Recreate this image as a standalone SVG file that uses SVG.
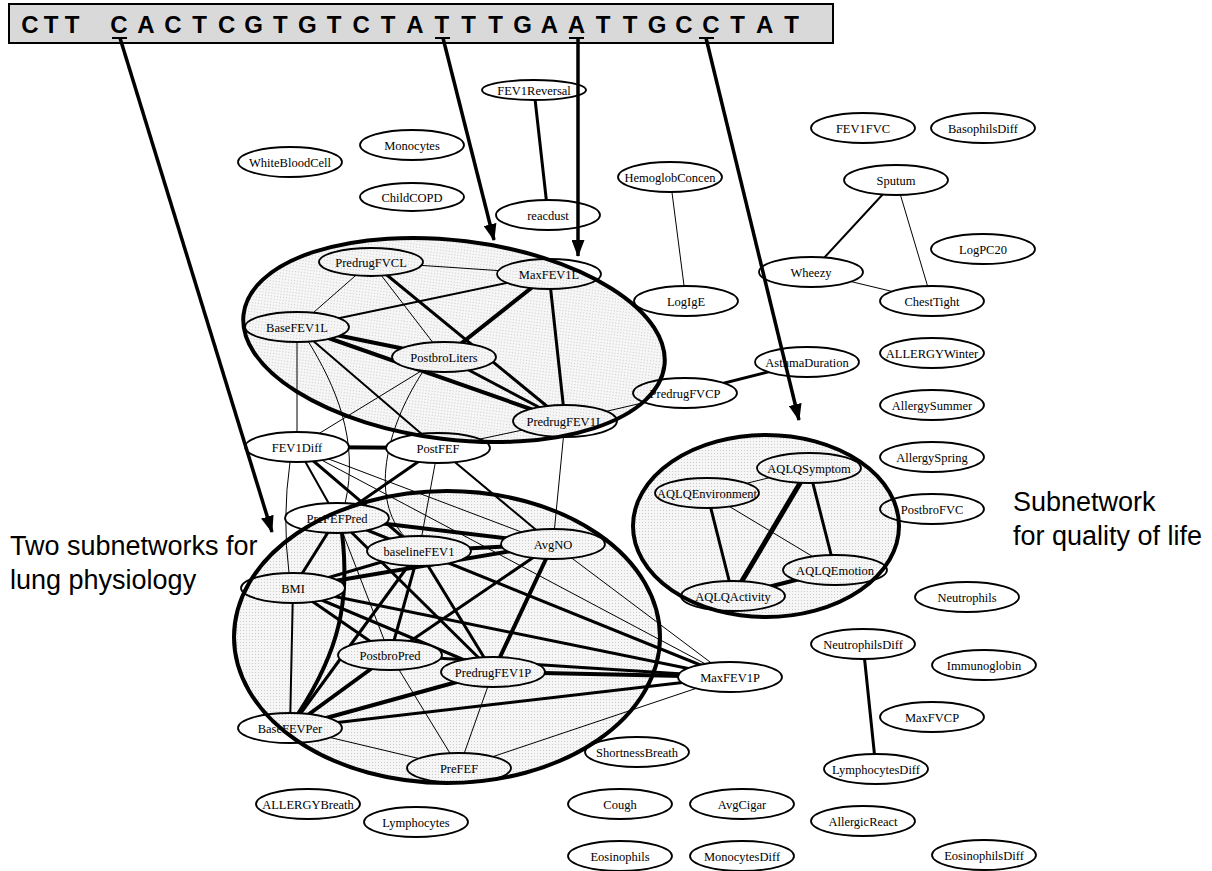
<svg xmlns="http://www.w3.org/2000/svg" width="1212" height="871" viewBox="0 0 1212 871">
<defs>
<style>
.nd ellipse{fill:none;stroke:#000;stroke-width:1.8}
.nd text{font-family:"Liberation Serif","Times New Roman",serif;font-size:12.5px;text-anchor:middle;fill:#000}
.cn line,.cn path{stroke:#000;fill:none;stroke-linecap:round}
.e1{stroke-width:1}.e2{stroke-width:2}.e3{stroke-width:3}.e4{stroke-width:4}.e5{stroke-width:5}
.sub{fill:none;stroke:#000;stroke-width:4}
.subf{fill:url(#dots);stroke:none}
.arr{stroke:#000;stroke-width:3.5;fill:none;marker-end:url(#ah)}
.lbl{font-family:"Liberation Sans",Arial,sans-serif;font-size:27px;fill:#000}
.seq{font-family:"Liberation Sans",Arial,sans-serif;font-size:24px;font-weight:bold;text-anchor:middle;fill:#000}
</style>
<pattern id="dots" width="3" height="3" patternUnits="userSpaceOnUse"><rect width="3" height="3" fill="#f6f6f6"/><rect width="1" height="1" fill="#cccccc"/></pattern>
<marker id="ah" markerUnits="userSpaceOnUse" markerWidth="17" markerHeight="13" refX="16" refY="6.5" orient="auto" viewBox="0 0 17 13"><path d="M0,0 L17,6.5 L0,13 z" fill="#000"/></marker>
<mask id="nm" maskUnits="userSpaceOnUse" x="0" y="0" width="1212" height="871">
<rect width="1212" height="871" fill="#fff"/>
<g fill="#000">
<ellipse cx="534" cy="90" rx="52" ry="10"/><ellipse cx="548" cy="215" rx="52" ry="15"/>
<ellipse cx="670" cy="177" rx="52" ry="15"/><ellipse cx="686" cy="301" rx="52" ry="15"/>
<ellipse cx="896" cy="180" rx="52" ry="15"/><ellipse cx="811" cy="272" rx="52" ry="15"/><ellipse cx="932" cy="301" rx="52" ry="15"/>
<ellipse cx="807" cy="362" rx="52" ry="15"/><ellipse cx="685" cy="393" rx="52" ry="15"/>
<ellipse cx="809" cy="468" rx="52" ry="15"/><ellipse cx="707" cy="493" rx="52" ry="15"/><ellipse cx="835" cy="570" rx="52" ry="15"/><ellipse cx="733" cy="596" rx="52" ry="15"/>
<ellipse cx="863" cy="644" rx="52" ry="15"/><ellipse cx="876" cy="769" rx="52" ry="15"/>
<ellipse cx="371" cy="262" rx="52" ry="14"/><ellipse cx="549" cy="274" rx="52" ry="15"/><ellipse cx="297" cy="327" rx="52" ry="15"/><ellipse cx="444" cy="357" rx="52" ry="15"/><ellipse cx="565" cy="421" rx="52" ry="16"/><ellipse cx="297" cy="447" rx="52" ry="15"/><ellipse cx="438" cy="448" rx="52" ry="15"/>
<ellipse cx="337" cy="518" rx="52" ry="15"/><ellipse cx="419" cy="551" rx="52" ry="15"/><ellipse cx="553" cy="544" rx="52" ry="15"/><ellipse cx="293" cy="588" rx="52" ry="15"/><ellipse cx="390" cy="655" rx="52" ry="15"/><ellipse cx="493" cy="672" rx="52" ry="15"/><ellipse cx="730" cy="677" rx="52" ry="15"/><ellipse cx="290" cy="728" rx="52" ry="15"/><ellipse cx="459" cy="768" rx="52" ry="15"/>
</g>
</mask>
</defs>

<rect width="1212" height="871" fill="#fff"/>

<g id="subnet-fills">
<ellipse class="subf" cx="454" cy="340" rx="212" ry="99.5" transform="rotate(7 454 340)"/>
<ellipse class="subf" cx="447" cy="637" rx="213" ry="146"/>
<ellipse class="subf" cx="766" cy="526" rx="133" ry="91"/>
</g>

<g id="connectors" class="cn" mask="url(#nm)">
<line class="e3" x1="534" y1="90" x2="548" y2="215"/>
<line class="e1" x1="670" y1="177" x2="686" y2="301"/>
<line class="e2" x1="896" y1="180" x2="811" y2="272"/>
<line class="e1" x1="896" y1="180" x2="932" y2="301"/>
<line class="e1" x1="811" y1="272" x2="932" y2="301"/>
<line class="e3" x1="685" y1="393" x2="807" y2="362"/>
<line class="e1" x1="565" y1="421" x2="685" y2="393"/>
<line class="e1" x1="809" y1="468" x2="707" y2="493"/>
<line class="e5" x1="809" y1="468" x2="733" y2="596"/>
<line class="e3" x1="809" y1="468" x2="835" y2="570"/>
<line class="e3" x1="707" y1="493" x2="733" y2="596"/>
<line class="e1" x1="707" y1="493" x2="835" y2="570"/>
<line class="e4" x1="835" y1="570" x2="733" y2="596"/>
<line class="e3" x1="863" y1="644" x2="876" y2="769"/>
<!-- upper group -->
<line class="e1" x1="371" y1="262" x2="549" y2="274"/>
<line class="e1" x1="371" y1="262" x2="297" y2="327"/>
<line class="e1" x1="371" y1="262" x2="444" y2="357"/>
<line class="e3" x1="371" y1="262" x2="565" y2="421"/>
<line class="e2" x1="549" y1="274" x2="297" y2="327"/>
<line class="e4" x1="549" y1="274" x2="444" y2="357"/>
<line class="e3" x1="549" y1="274" x2="565" y2="421"/>
<line class="e4" x1="297" y1="327" x2="444" y2="357"/>
<line class="e4" x1="297" y1="327" x2="565" y2="421"/>
<line class="e3" x1="444" y1="357" x2="565" y2="421"/>
<line class="e1" x1="297" y1="327" x2="297" y2="447"/>
<path class="e1" d="M308,341 C335,385 360,440 345,504"/>
<line class="e2" x1="297" y1="327" x2="438" y2="448"/>
<line class="e1" x1="444" y1="357" x2="297" y2="447"/>
<path class="e1" d="M422,373 C385,430 370,500 405,537"/>
<line class="e1" x1="565" y1="421" x2="438" y2="448"/>
<line class="e1" x1="565" y1="421" x2="553" y2="544"/>
<line class="e4" x1="297" y1="447" x2="438" y2="448"/>
<!-- lower group -->
<path class="e1" d="M290,462 Q282,518 289,573"/>
<line class="e2" x1="297" y1="447" x2="337" y2="518"/>
<line class="e3" x1="297" y1="447" x2="419" y2="551"/>
<line class="e1" x1="297" y1="447" x2="553" y2="544"/>
<line class="e1" x1="297" y1="447" x2="730" y2="677"/>
<line class="e3" x1="438" y1="448" x2="337" y2="518"/>
<line class="e1" x1="438" y1="448" x2="419" y2="551"/>
<line class="e2" x1="438" y1="448" x2="553" y2="544"/>
<line class="e3" x1="337" y1="518" x2="419" y2="551"/>
<line class="e4" x1="337" y1="518" x2="553" y2="544"/>
<line class="e3" x1="337" y1="518" x2="293" y2="588"/>
<path class="e4" d="M342,533 C350,600 340,650 298,714"/>
<line class="e1" x1="337" y1="518" x2="390" y2="655"/>
<line class="e3" x1="337" y1="518" x2="493" y2="672"/>
<line class="e1" x1="337" y1="518" x2="730" y2="677"/>
<line class="e4" x1="419" y1="551" x2="553" y2="544"/>
<line class="e3" x1="419" y1="551" x2="293" y2="588"/>
<line class="e3" x1="419" y1="551" x2="290" y2="728"/>
<line class="e3" x1="419" y1="551" x2="390" y2="655"/>
<line class="e3" x1="419" y1="551" x2="493" y2="672"/>
<line class="e3" x1="419" y1="551" x2="730" y2="677"/>
<line class="e4" x1="553" y1="544" x2="293" y2="588"/>
<line class="e3" x1="553" y1="544" x2="390" y2="655"/>
<line class="e4" x1="553" y1="544" x2="493" y2="672"/>
<line class="e1" x1="553" y1="544" x2="730" y2="677"/>
<line class="e2" x1="293" y1="588" x2="290" y2="728"/>
<line class="e3" x1="293" y1="588" x2="390" y2="655"/>
<line class="e3" x1="293" y1="588" x2="493" y2="672"/>
<line class="e3" x1="293" y1="588" x2="730" y2="677"/>
<line class="e4" x1="390" y1="655" x2="290" y2="728"/>
<line class="e1" x1="390" y1="655" x2="459" y2="768"/>
<line class="e3" x1="390" y1="655" x2="730" y2="677"/>
<line class="e4" x1="493" y1="672" x2="290" y2="728"/>
<line class="e4" x1="493" y1="672" x2="730" y2="677"/>
<line class="e1" x1="493" y1="672" x2="459" y2="768"/>
<line class="e3" x1="290" y1="728" x2="730" y2="677"/>
<line class="e1" x1="290" y1="728" x2="459" y2="768"/>
<line class="e1" x1="459" y1="768" x2="730" y2="677"/>
</g>

<g id="n-FEV1Reversal" class="nd"><ellipse cx="534" cy="90" rx="52" ry="10"/><text x="534" y="94.5">FEV1Reversal</text></g>
<g id="n-Monocytes" class="nd"><ellipse cx="412" cy="145" rx="52" ry="15"/><text x="412" y="149.5">Monocytes</text></g>
<g id="n-WhiteBloodCell" class="nd"><ellipse cx="290" cy="162" rx="52" ry="15"/><text x="290" y="166.5">WhiteBloodCell</text></g>
<g id="n-ChildCOPD" class="nd"><ellipse cx="412" cy="197" rx="52" ry="14"/><text x="412" y="201.5">ChildCOPD</text></g>
<g id="n-reacdust" class="nd"><ellipse cx="548" cy="215" rx="52" ry="15"/><text x="548" y="219.5">reacdust</text></g>
<g id="n-FEV1FVC" class="nd"><ellipse cx="863" cy="128" rx="52" ry="15"/><text x="863" y="132.5">FEV1FVC</text></g>
<g id="n-BasophilsDiff" class="nd"><ellipse cx="983" cy="128" rx="52" ry="15"/><text x="983" y="132.5">BasophilsDiff</text></g>
<g id="n-HemoglobConcen" class="nd"><ellipse cx="670" cy="177" rx="52" ry="15"/><text x="670" y="181.5">HemoglobConcen</text></g>
<g id="n-Sputum" class="nd"><ellipse cx="896" cy="180" rx="52" ry="15"/><text x="896" y="184.5">Sputum</text></g>
<g id="n-LogPC20" class="nd"><ellipse cx="983" cy="249" rx="52" ry="15"/><text x="983" y="253.5">LogPC20</text></g>
<g id="n-Wheezy" class="nd"><ellipse cx="811" cy="272" rx="52" ry="15"/><text x="811" y="276.5">Wheezy</text></g>
<g id="n-ChestTight" class="nd"><ellipse cx="932" cy="301" rx="52" ry="15"/><text x="932" y="305.5">ChestTight</text></g>
<g id="n-LogIgE" class="nd"><ellipse cx="686" cy="301" rx="52" ry="15"/><text x="686" y="305.5">LogIgE</text></g>
<g id="n-ALLERGYWinter" class="nd"><ellipse cx="932" cy="353" rx="52" ry="15"/><text x="932" y="357.5">ALLERGYWinter</text></g>
<g id="n-AsthmaDuration" class="nd"><ellipse cx="807" cy="362" rx="52" ry="15"/><text x="807" y="366.5">AsthmaDuration</text></g>
<g id="n-PredrugFVCP" class="nd"><ellipse cx="685" cy="393" rx="52" ry="15"/><text x="685" y="397.5">PredrugFVCP</text></g>
<g id="n-AllergySummer" class="nd"><ellipse cx="932" cy="405" rx="52" ry="15"/><text x="932" y="409.5">AllergySummer</text></g>
<g id="n-AllergySpring" class="nd"><ellipse cx="932" cy="457" rx="52" ry="15"/><text x="932" y="461.5">AllergySpring</text></g>
<g id="n-PostbroFVC" class="nd"><ellipse cx="932" cy="509" rx="52" ry="15"/><text x="932" y="513.5">PostbroFVC</text></g>
<g id="n-Neutrophils" class="nd"><ellipse cx="967" cy="597" rx="52" ry="15"/><text x="967" y="601.5">Neutrophils</text></g>
<g id="n-AQLQSymptom" class="nd"><ellipse cx="809" cy="468" rx="52" ry="15"/><text x="809" y="472.5">AQLQSymptom</text></g>
<g id="n-AQLQEnvironment" class="nd"><ellipse cx="707" cy="493" rx="52" ry="15"/><text x="707" y="497.5">AQLQEnvironment</text></g>
<g id="n-AQLQEmotion" class="nd"><ellipse cx="835" cy="570" rx="52" ry="15"/><text x="835" y="574.5">AQLQEmotion</text></g>
<g id="n-AQLQActivity" class="nd"><ellipse cx="733" cy="596" rx="52" ry="15"/><text x="733" y="600.5">AQLQActivity</text></g>
<g id="n-NeutrophilsDiff" class="nd"><ellipse cx="863" cy="644" rx="52" ry="15"/><text x="863" y="648.5">NeutrophilsDiff</text></g>
<g id="n-Immunoglobin" class="nd"><ellipse cx="984" cy="665" rx="52" ry="15"/><text x="984" y="669.5">Immunoglobin</text></g>
<g id="n-MaxFVCP" class="nd"><ellipse cx="932" cy="717" rx="52" ry="15"/><text x="932" y="721.5">MaxFVCP</text></g>
<g id="n-LymphocytesDiff" class="nd"><ellipse cx="876" cy="769" rx="52" ry="15"/><text x="876" y="773.5">LymphocytesDiff</text></g>
<g id="n-AllergicReact" class="nd"><ellipse cx="863" cy="821" rx="52" ry="15"/><text x="863" y="825.5">AllergicReact</text></g>
<g id="n-EosinophilsDiff" class="nd"><ellipse cx="984" cy="855" rx="52" ry="15"/><text x="984" y="859.5">EosinophilsDiff</text></g>
<g id="n-PredrugFVCL" class="nd"><ellipse cx="371" cy="262" rx="52" ry="14"/><text x="371" y="266.5">PredrugFVCL</text></g>
<g id="n-MaxFEV1L" class="nd"><ellipse cx="549" cy="274" rx="52" ry="15"/><text x="549" y="278.5">MaxFEV1L</text></g>
<g id="n-BaseFEV1L" class="nd"><ellipse cx="297" cy="327" rx="52" ry="15"/><text x="297" y="331.5">BaseFEV1L</text></g>
<g id="n-PostbroLiters" class="nd"><ellipse cx="444" cy="357" rx="52" ry="15"/><text x="444" y="361.5">PostbroLiters</text></g>
<g id="n-PredrugFEV1L" class="nd"><ellipse cx="565" cy="421" rx="52" ry="16"/><text x="565" y="425.5">PredrugFEV1L</text></g>
<g id="n-FEV1Diff" class="nd"><ellipse cx="297" cy="447" rx="52" ry="15"/><text x="297" y="451.5">FEV1Diff</text></g>
<g id="n-PostFEF" class="nd"><ellipse cx="438" cy="448" rx="52" ry="15"/><text x="438" y="452.5">PostFEF</text></g>
<g id="n-PreFEFPred" class="nd"><ellipse cx="337" cy="518" rx="52" ry="15"/><text x="337" y="522.5">PreFEFPred</text></g>
<g id="n-baselineFEV1" class="nd"><ellipse cx="419" cy="551" rx="52" ry="15"/><text x="419" y="555.5">baselineFEV1</text></g>
<g id="n-AvgNO" class="nd"><ellipse cx="553" cy="544" rx="52" ry="15"/><text x="553" y="548.5">AvgNO</text></g>
<g id="n-BMI" class="nd"><ellipse cx="293" cy="588" rx="52" ry="15"/><text x="293" y="592.5">BMI</text></g>
<g id="n-PostbroPred" class="nd"><ellipse cx="390" cy="655" rx="52" ry="15"/><text x="390" y="659.5">PostbroPred</text></g>
<g id="n-PredrugFEV1P" class="nd"><ellipse cx="493" cy="672" rx="52" ry="15"/><text x="493" y="676.5">PredrugFEV1P</text></g>
<g id="n-MaxFEV1P" class="nd"><ellipse cx="730" cy="677" rx="52" ry="15"/><text x="730" y="681.5">MaxFEV1P</text></g>
<g id="n-BaseFEVPer" class="nd"><ellipse cx="290" cy="728" rx="52" ry="15"/><text x="290" y="732.5">BaseFEVPer</text></g>
<g id="n-PreFEF" class="nd"><ellipse cx="459" cy="768" rx="52" ry="15"/><text x="459" y="772.5">PreFEF</text></g>
<g id="n-ShortnessBreath" class="nd"><ellipse cx="637" cy="752" rx="52" ry="15"/><text x="637" y="756.5">ShortnessBreath</text></g>
<g id="n-Cough" class="nd"><ellipse cx="620" cy="804" rx="52" ry="15"/><text x="620" y="808.5">Cough</text></g>
<g id="n-AvgCigar" class="nd"><ellipse cx="742" cy="804" rx="52" ry="15"/><text x="742" y="808.5">AvgCigar</text></g>
<g id="n-ALLERGYBreath" class="nd"><ellipse cx="308" cy="804" rx="52" ry="15"/><text x="308" y="808.5">ALLERGYBreath</text></g>
<g id="n-Lymphocytes" class="nd"><ellipse cx="416" cy="822" rx="52" ry="15"/><text x="416" y="826.5">Lymphocytes</text></g>
<g id="n-Eosinophils" class="nd"><ellipse cx="620" cy="856" rx="52" ry="15"/><text x="620" y="860.5">Eosinophils</text></g>
<g id="n-MonocytesDiff" class="nd"><ellipse cx="742" cy="856" rx="52" ry="15"/><text x="742" y="860.5">MonocytesDiff</text></g>

<g id="subnet-outlines">
<ellipse class="sub" cx="454" cy="340" rx="212" ry="99.5" transform="rotate(7 454 340)"/>
<ellipse class="sub" cx="447" cy="637" rx="213" ry="146"/>
<ellipse class="sub" cx="766" cy="526" rx="133" ry="91"/>
</g>

<g id="sequence">
<rect x="9" y="4" width="824" height="39" fill="#d9d9d9" stroke="#000" stroke-width="2"/>
<text class="seq" y="33" x="30 51 72 119 145.9 172.8 199.7 226.6 253.5 280.4 307.3 334.2 361.1 388 414.9 441.8 468.7 495.6 522.5 549.4 576.3 603.2 630.1 657 683.9 710.8 737.7 764.6 791.5">CTTCACTCGTGTCTATTTGAATTGCCTAT</text>
<g stroke="#000" stroke-width="2">
<line x1="112" y1="38" x2="127" y2="38"/>
<line x1="435" y1="38" x2="450" y2="38"/>
<line x1="569" y1="38" x2="584" y2="38"/>
<line x1="699" y1="38" x2="714" y2="38"/>
</g>
</g>

<g id="arrows">
<line class="arr" x1="120" y1="38" x2="272" y2="532"/>
<line class="arr" x1="443" y1="38" x2="494" y2="240"/>
<line class="arr" x1="578" y1="38" x2="578" y2="256"/>
<line class="arr" x1="706" y1="38" x2="799" y2="420"/>
</g>

<g id="labels">
<text class="lbl" x="10" y="555">Two subnetworks for</text>
<text class="lbl" x="10" y="589">lung physiology</text>
<text class="lbl" x="1013" y="511">Subnetwork</text>
<text class="lbl" x="1013" y="545">for quality of life</text>
</g>
</svg>
